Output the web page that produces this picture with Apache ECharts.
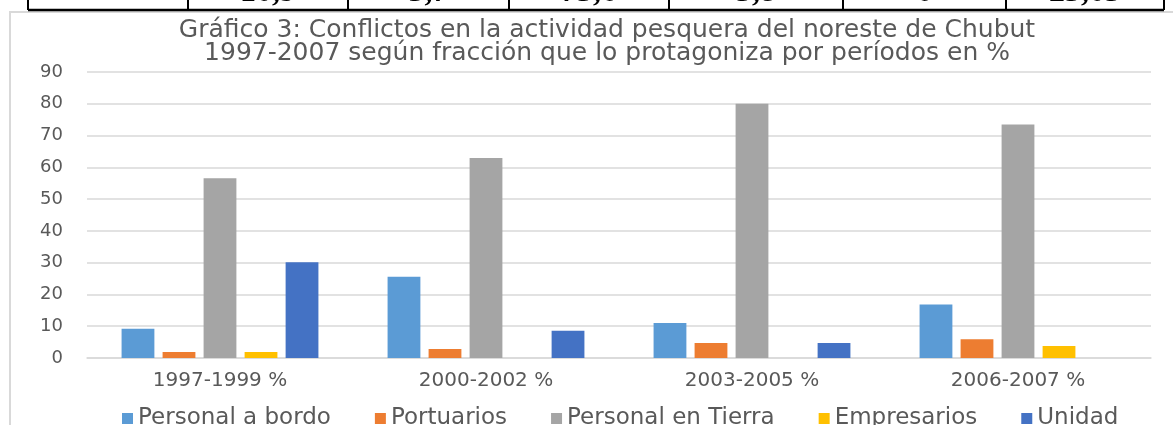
<!DOCTYPE html>
<html>
<head>
<meta charset="utf-8">
<script src="https://cdn.jsdelivr.net/npm/echarts@6/dist/echarts.min.js"></script>
<style>
  html, body { margin: 0; padding: 0; background: #fff; }
  #chart { width: 1173px; height: 425px; }
</style>
</head>
<body>
<div id="chart"></div>
<script>
  // datos del gráfico
  var periodos = ['1997-1999 %', '2000-2002 %', '2003-2005 %', '2006-2007 %'];
  var personalABordo = [9.2, 25.6, 11.0, 16.8];
  var portuarios = [1.9, 2.8, 4.7, 5.9];
  var personalEnTierra = [56.6, 62.9, 80.0, 73.5];
  var empresarios = [1.9, 0, 0, 3.8];
  var unidad = [30.1, 8.6, 4.7, 0];
  var ejeY = { min: 0, max: 90, interval: 10 };

  // fila de la tabla cortada arriba
  var filaTabla = ['', '10,9', '5,7', '75,6', '5,8', '0', '25,05'];
  var bordesTabla = [28, 188, 348, 509, 669, 843, 1006, 1164];

  var colores = ['#5B9BD5', '#ED7D31', '#A5A5A5', '#FFC000', '#4472C4'];
  var gris = '#595959';
  var fuente = '"DejaVu Sans", sans-serif';

  var myChart = echarts.init(document.getElementById('chart'));

  // tabla: lineas y textos
  var graficos = [];
  graficos.push({
    type: 'rect',
    shape: { x: 10, y: 12, width: 1200, height: 500 },
    style: { fill: 'none', stroke: '#d9d9d9', lineWidth: 2 },
    silent: true
  });
  graficos.push({
    type: 'line',
    shape: { x1: bordesTabla[0], y1: 10, x2: bordesTabla[bordesTabla.length - 1], y2: 10 },
    style: { stroke: '#000', lineWidth: 2.5 },
    silent: true
  });
  bordesTabla.forEach(function (x) {
    graficos.push({
      type: 'line',
      shape: { x1: x, y1: 0, x2: x, y2: 10 },
      style: { stroke: '#000', lineWidth: 2 },
      silent: true
    });
  });
  filaTabla.forEach(function (t, i) {
    if (!t) return;
    graficos.push({
      type: 'text',
      x: (bordesTabla[i] + bordesTabla[i + 1]) / 2,
      y: -7,
      style: {
        text: t,
        fill: '#000',
        font: 'bold 32px "Liberation Serif", serif',
        textAlign: 'center',
        textVerticalAlign: 'middle'
      },
      silent: true
    });
  });

  var nombres = ['Personal a bordo', 'Portuarios', 'Personal en Tierra', 'Empresarios', 'Unidad'];
  var valores = [personalABordo, portuarios, personalEnTierra, empresarios, unidad];
  var series = nombres.map(function (n, i) {
    return {
      name: n,
      type: 'bar',
      data: valores[i],
      barGap: '25%',
      barCategoryGap: '26%',
      itemStyle: { color: colores[i] }
    };
  });

  myChart.setOption({
    animation: false,
    color: colores,
    title: {
      text: 'Gráfico 3: Conflictos en la actividad pesquera del noreste de Chubut\n1997-2007 según fracción que lo protagoniza por períodos en %',
      left: 602,
      top: 14,
      textAlign: 'center',
      textStyle: {
        fontFamily: fuente,
        fontSize: 25,
        fontWeight: 'normal',
        color: gris,
        lineHeight: 23
      }
    },
    legend: {
      data: nombres,
      left: 117,
      top: 402,
      icon: 'rect',
      itemWidth: 11,
      itemHeight: 11,
      itemGap: 44,
      textStyle: { fontFamily: fuente, fontSize: 23, color: gris }
    },
    grid: {
      left: 87,
      right: 22,
      top: 72,
      bottom: 67,
      containLabel: false
    },
    xAxis: {
      type: 'category',
      data: periodos,
      axisLine: { show: true, lineStyle: { color: '#d9d9d9', width: 1.5 } },
      axisTick: { show: false },
      axisLabel: {
        interval: 0,
        margin: 13,
        fontFamily: fuente,
        fontSize: 20,
        color: gris
      }
    },
    yAxis: {
      type: 'value',
      min: ejeY.min,
      max: ejeY.max,
      interval: ejeY.interval,
      axisLine: { show: false },
      axisTick: { show: false },
      splitLine: { lineStyle: { color: '#d9d9d9', width: 1.5 } },
      axisLabel: {
        margin: 24,
        fontFamily: fuente,
        fontSize: 18,
        color: gris
      }
    },
    graphic: graficos,
    series: series
  });
</script>
</body>
</html>
